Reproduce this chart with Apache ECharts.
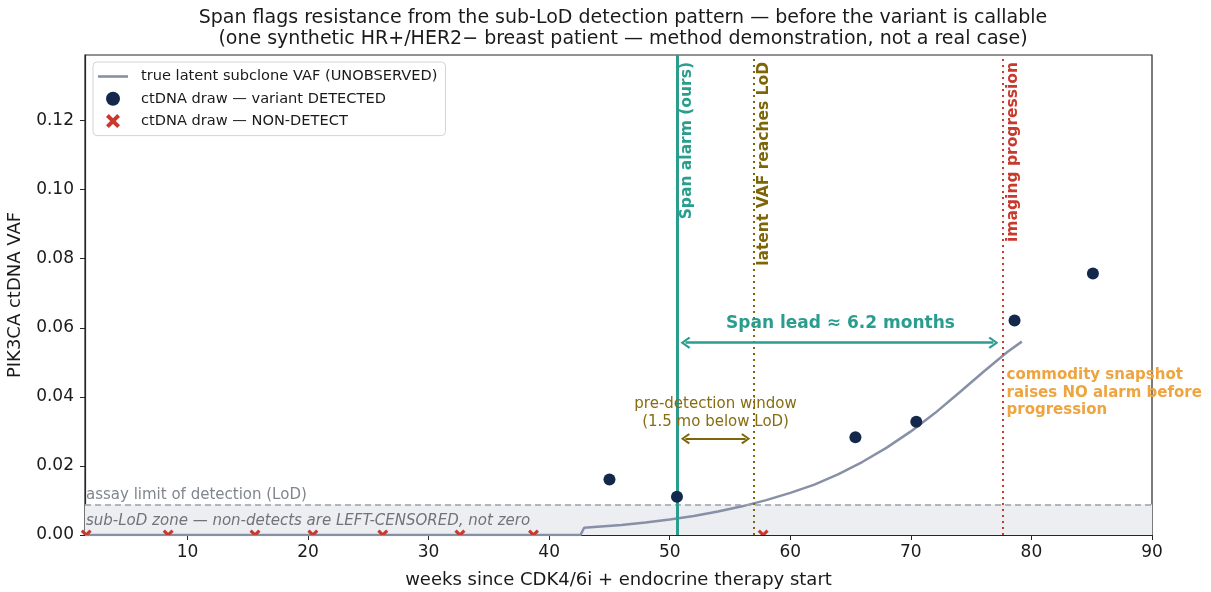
<!DOCTYPE html>
<html>
<head>
<meta charset="utf-8">
<script src="https://cdn.jsdelivr.net/npm/echarts@6/dist/echarts.min.js"></script>
<style>
html,body{margin:0;padding:0;background:#fff;}
#chart{width:1211px;height:592px;}
</style>
</head>
<body>
<div id="chart"></div>
<script>
// ---------------- data ----------------
const titleText = 'Span flags resistance from the sub-LoD detection pattern \u2014 before the variant is callable\n(one synthetic HR+/HER2\u2212 breast patient \u2014 method demonstration, not a real case)';
const xTicks = [10, 20, 30, 40, 50, 60, 70, 80, 90];
const yTicks = [0, 0.02, 0.04, 0.06, 0.08, 0.10, 0.12];
const xRange = [1.5, 90];
const yRange = [0, 0.139];

// true latent subclone VAF
const latentWeeks = [1.5, 42.6, 42.9, 44, 46, 48, 50, 52, 54, 56, 58, 60, 62, 64, 66, 68, 70, 72, 74, 76, 78, 79.2];
const latentVaf   = [0, 0, 0.0021, 0.0024, 0.0029, 0.0036, 0.0045, 0.0055, 0.0068, 0.0083, 0.0101, 0.0122, 0.0146, 0.0176, 0.0212, 0.0253, 0.0300, 0.0353, 0.0412, 0.0472, 0.0530, 0.0560];

// ctDNA draws
const detectedWeeks = [45.0, 50.6, 65.4, 70.45, 78.6, 85.1];
const detectedVaf   = [0.0161, 0.0111, 0.0283, 0.0328, 0.0621, 0.0757];
const nonDetectWeeks = [1.6, 8.4, 15.6, 20.4, 26.2, 32.6, 38.7, 57.75];
const nonDetectVaf   = [0, 0, 0, 0, 0, 0, 0, 0];

// events
const lodVaf = 0.0088;
const spanAlarmWeek = 50.6;
const lodCrossWeek = 57.0;
const progressionWeek = 77.6;
const spanLeadArrow = [51.3, 76.85, 0.0557];
const preDetArrow = [51.3, 56.3, 0.0279];

const labels = {
  legendLine: 'true latent subclone VAF (UNOBSERVED)',
  legendDet: 'ctDNA draw \u2014 variant DETECTED',
  legendNon: 'ctDNA draw \u2014 NON-DETECT',
  xName: 'weeks since CDK4/6i + endocrine therapy start',
  yName: 'PIK3CA ctDNA VAF',
  spanAlarm: 'Span alarm (ours)',
  lodCross: 'latent VAF reaches LoD',
  progression: 'imaging progression',
  spanLead: 'Span lead \u2248 6.2 months',
  preDet: 'pre-detection window\n(1.5 mo below LoD)',
  commodity: 'commodity snapshot\nraises NO alarm before\nprogression',
  lodLabel: 'assay limit of detection (LoD)',
  subLod: 'sub-LoD zone \u2014 non-detects are LEFT-CENSORED, not zero'
};

// ---------------- styles ----------------
const FONT = '"DejaVu Sans", "Liberation Sans", sans-serif';
const C = {
  teal: '#2a9d8f', olive: '#7d6608', red: '#c8392e', orange: '#eea43f',
  navy: '#14284b', slate: '#8790a6', axis: '#262626', band: '#eceef1', lod: '#9da2a9'
};
const xPath = 'path://M2,0 L5,3 L8,0 L10,2 L7,5 L10,8 L8,10 L5,7 L2,10 L0,8 L3,5 L0,2 Z';
const xHalfPath = 'path://M0,2 L2,0 L5,3 L8,0 L10,2 L7,5 L3,5 Z';
const linePath = 'path://M0,0 L30,0 L30,2.6 L0,2.6 Z';
const chevron = 'path://M5,0 L10,8 L8.6,9.4 L5,3.2 L1.4,9.4 L0,8 Z';

const zip = (a, b) => a.map((v, i) => [v, b[i]]);

const chart = echarts.init(document.getElementById('chart'), null, {renderer: 'canvas'});

const option = {
  animation: false,
  textStyle: {fontFamily: FONT},
  title: {
    text: titleText,
    left: 618, textAlign: 'center', top: 3,
    textStyle: {fontFamily: FONT, fontSize: 19, fontWeight: 'normal', color: '#1a1a1a', lineHeight: 21}
  },
  legend: {
    orient: 'vertical', left: 93, top: 62,
    padding: [7, 8, 7, 5], itemGap: 7.3,
    itemWidth: 30, itemHeight: 14,
    backgroundColor: 'rgba(255,255,255,0.85)', borderColor: '#d3d3d3', borderWidth: 1, borderRadius: 4,
    textStyle: {fontFamily: FONT, fontSize: 14.6, color: '#1a1a1a', padding: [0, 0, 0, 8]},
    data: [
      {name: labels.legendLine, icon: linePath, itemStyle: {color: C.slate}},
      {name: labels.legendDet, icon: 'circle'},
      {name: labels.legendNon, icon: xPath, itemStyle: {color: C.red}}
    ]
  },
  grid: {left: 85, right: 59, top: 55, bottom: 57, outerBoundsMode: 'none', containLabel: false,
    show: true, borderColor: C.axis, borderWidth: 1.2, backgroundColor: 'transparent'},
  xAxis: {
    type: 'value', min: xRange[0], max: xRange[1],
    name: labels.xName, nameLocation: 'middle', nameGap: 36,
    nameTextStyle: {fontFamily: FONT, fontSize: 18, color: '#1a1a1a'},
    axisLine: {show: true, onZero: false, lineStyle: {color: C.axis, width: 1.2}},
    axisTick: {show: true, length: 5, customValues: xTicks, lineStyle: {color: C.axis}},
    axisLabel: {customValues: xTicks, fontFamily: FONT, fontSize: 17, color: '#1a1a1a', margin: 9},
    splitLine: {show: false}
  },
  yAxis: {
    type: 'value', min: yRange[0], max: yRange[1],
    name: labels.yName, nameLocation: 'middle', nameGap: 61,
    nameTextStyle: {fontFamily: FONT, fontSize: 18, color: '#1a1a1a'},
    axisLine: {show: true, onZero: false, lineStyle: {color: C.axis, width: 1.2}},
    axisTick: {show: true, length: 5, customValues: yTicks, lineStyle: {color: C.axis}},
    axisLabel: {customValues: yTicks, fontFamily: FONT, fontSize: 17, color: '#1a1a1a', margin: 11,
      formatter: v => v.toFixed(2)},
    splitLine: {show: false}
  },
  series: [
    {
      name: '__band', type: 'line', data: [], silent: true, z: 1,
      markArea: {
        silent: true,
        itemStyle: {color: C.band},
        data: [[{coord: [xRange[0], 0]}, {coord: [xRange[1], lodVaf]}]]
      },
      markLine: {
        silent: true, symbol: 'none', label: {show: false},
        data: [
          [{coord: [xRange[0], lodVaf], lineStyle: {color: C.lod, type: [6, 4], width: 1.6}},
           {coord: [xRange[1], lodVaf]}]
        ]
      }
    },
    {
      name: labels.legendLine, type: 'line', z: 3,
      data: zip(latentWeeks, latentVaf),
      showSymbol: false, symbol: 'none', smooth: false,
      lineStyle: {color: C.slate, width: 2.5},
      itemStyle: {color: C.slate}
    },
    {
      name: '__events', type: 'line', data: [], silent: true, z: 4,
      markLine: {
        silent: true, symbol: 'none', label: {show: false},
        data: [
          {xAxis: spanAlarmWeek, lineStyle: {color: C.teal, type: 'solid', width: 3}},
          {xAxis: lodCrossWeek, lineStyle: {color: C.olive, type: [2, 4], width: 2}},
          {xAxis: progressionWeek, lineStyle: {color: C.red, type: [2, 4], width: 2}},
          [
            {coord: [spanLeadArrow[0], spanLeadArrow[2]], symbol: chevron, symbolSize: [12, 10],
             lineStyle: {color: C.teal, width: 2.5, type: 'solid'}},
            {coord: [spanLeadArrow[1], spanLeadArrow[2]], symbol: chevron, symbolSize: [12, 10]}
          ],
          [
            {coord: [preDetArrow[0], preDetArrow[2]], symbol: chevron, symbolSize: [11, 9],
             lineStyle: {color: C.olive, width: 2, type: 'solid'}},
            {coord: [preDetArrow[1], preDetArrow[2]], symbol: chevron, symbolSize: [11, 9]}
          ]
        ]
      }
    },
    {
      name: labels.legendDet, type: 'scatter', z: 6,
      data: zip(detectedWeeks, detectedVaf),
      symbol: 'circle', symbolSize: 12,
      itemStyle: {color: C.navy, opacity: 1}
    },
    {
      name: labels.legendNon, type: 'scatter', z: 6,
      data: zip(nonDetectWeeks, nonDetectVaf),
      symbol: xHalfPath, symbolSize: [11, 5.5], symbolOffset: [0, '-50%'],
      itemStyle: {color: C.red, opacity: 1}
    }
  ]
};

chart.setOption(option);

// ------------- text annotations placed via the chart's own scales -------------
const px = (x, y) => chart.convertToPixel({gridIndex: 0}, [x, y]);
const topPx = px(xRange[0], yRange[1])[1];
const g = [];
function vLabel(week, text, color) {
  const p = px(week, 0);
  g.push({
    type: 'text', x: p[0] + 2, y: topPx + 7, rotation: Math.PI / 2, z: 20,
    style: {text: text, fill: color, font: 'bold 15.5px ' + FONT, align: 'right', verticalAlign: 'top'}
  });
}
vLabel(spanAlarmWeek, labels.spanAlarm, C.teal);
vLabel(lodCrossWeek, labels.lodCross, C.olive);
vLabel(progressionWeek, labels.progression, C.red);

const sl = px((spanLeadArrow[0] + spanLeadArrow[1]) / 2, spanLeadArrow[2]);
g.push({type: 'text', x: sl[0] + 1, y: sl[1] - 19, z: 20,
  style: {text: labels.spanLead, fill: C.teal, font: 'bold 17px ' + FONT, align: 'center', verticalAlign: 'middle'}});

const pd = px((preDetArrow[0] + preDetArrow[1]) / 2, preDetArrow[2]);
g.push({type: 'text', x: pd[0] + 0, y: pd[1] - 8, z: 20,
  style: {text: labels.preDet, fill: '#866d12', font: '15px ' + FONT, align: 'center', verticalAlign: 'bottom', lineHeight: 17.5}});

const cm = px(progressionWeek, 0.0488);
g.push({type: 'text', x: cm[0] + 4, y: cm[1], z: 20,
  style: {text: labels.commodity, fill: C.orange, font: 'bold 15px ' + FONT, align: 'left', verticalAlign: 'top', lineHeight: 17.5}});

const ll = px(xRange[0], lodVaf);
g.push({type: 'text', x: ll[0] + 1, y: ll[1] - 2, z: 20,
  style: {text: labels.lodLabel, fill: '#80868f', font: '15px ' + FONT, align: 'left', verticalAlign: 'bottom'}});
const sb = px(xRange[0], lodVaf / 2);
g.push({type: 'text', x: sb[0] + 1, y: sb[1] + 1, z: 20,
  style: {text: labels.subLod, fill: '#6e747c', font: 'italic 15px ' + FONT, align: 'left', verticalAlign: 'middle'}});

chart.setOption({graphic: g});
</script>
</body>
</html>
